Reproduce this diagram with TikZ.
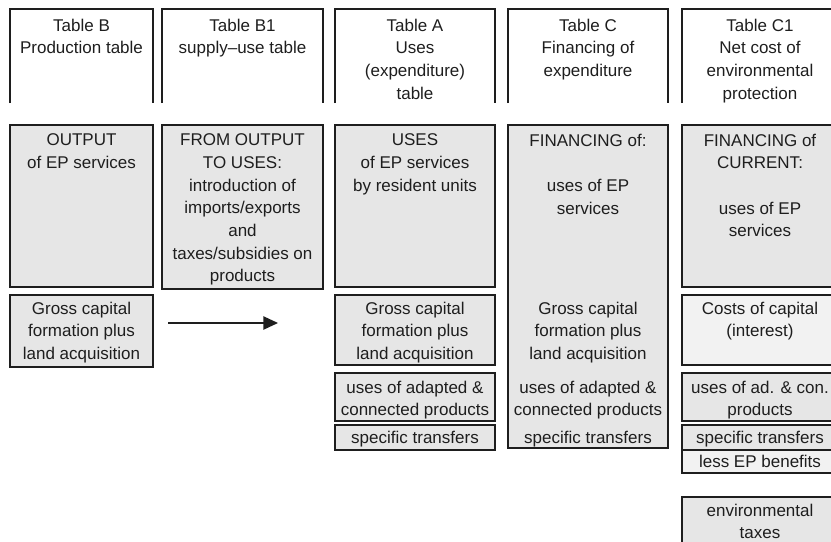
\documentclass[tikz,border=0pt]{standalone}
\usepackage{fontspec}
\setmainfont{Liberation Sans}
\usetikzlibrary{arrows.meta,fit}
\definecolor{cellgray}{HTML}{E6E6E6}
\definecolor{cellpale}{HTML}{F2F2F2}
\definecolor{ink}{HTML}{1E1E1E}
\begin{document}
\begin{tikzpicture}[x=0.75pt,y=-0.75pt,
 cell/.style={draw=ink, line width=1.2pt, fill=cellgray, inner sep=0pt},
 pale/.style={fill=cellpale},
 txt/.style={anchor=north, align=center, inner sep=0pt, text=ink, font=\fontsize{12.75}{17}\selectfont},
 head/.style={draw=ink, line width=1.2pt}]
\useasboundingbox (0,0) rectangle (831,542);
% header boxes (open at the bottom)
\draw[head] (10,103) |- (153,9) -- (153,103);
\draw[head] (162,103) |- (323,9) -- (323,103);
\draw[head] (335,103) |- (495,9) -- (495,103);
\draw[head] (508,103) |- (668,9) -- (668,103);
\draw[head] (682,103) |- (840,9) -- (840,103);
\node[txt] (hB)  at (81.5,18.6) {Table B\\Production table};
\node[txt] (hB1) at (242.5,18.6) {Table B1\\supply--use table};
\node[txt] (hA)  at (415,18.6) {Table A\\Uses\\(expenditure)\\table};
\node[txt] (hC)  at (588,18.6) {Table C\\Financing of\\expenditure};
\node[txt] (hC1) at (760,18.6) {Table C1\\Net cost of\\environmental\\protection};
% main boxes
\node[cell, fit={(10,125)(153,287)}] (bB) {};
\node[cell, fit={(162,125)(323,289)}] (bB1) {};
\node[cell, fit={(335,125)(495,287)}] (bA) {};
\node[cell, fit={(508,125)(668,448)}] (bC) {};
\node[cell, fit={(682,125)(840,287)}] (bC1) {};
\node[txt] (tB)  at (81.5,133.6) {OUTPUT\\of EP services};
\node[txt] (tB1) at (242.5,133.6) {FROM OUTPUT\\TO USES:\\introduction of\\imports/exports\\and\\taxes/subsidies on\\products};
\node[txt] (tA)  at (415,133.6) {USES\\of EP services\\by resident units};
\node[txt] (tC)  at (588,133.6) {FINANCING of:\\[17pt]uses of EP\\services};
\node[txt] (tC1) at (760,133.6) {FINANCING of\\CURRENT:\\[17pt]uses of EP\\services};
% second row
\node[cell, fit={(10,295)(153,367)}] (gB) {};
\node[cell, fit={(335,295)(495,365)}] (gA) {};
\node[cell, fit={(335,373)(495,421)}] (uA) {};
\node[cell, fit={(335,425)(495,450)}] (sA) {};
\node[cell, pale, fit={(682,295)(840,365)}] (kC1) {};
\node[cell, fit={(682,373)(840,421)}] (uC1) {};
\node[cell, fit={(682,425)(840,450)}] (sC1) {};
\node[cell, pale, fit={(682,450)(840,473)}] (lC1) {};
\node[cell, fit={(682,497)(840,560)}] (eC1) {};
\node[txt] (tgB) at (81.5,301.6) {Gross capital\\formation plus\\land acquisition};
\node[txt] (tgA) at (415,301.6) {Gross capital\\formation plus\\land acquisition};
\node[txt] (tgC) at (588,301.6) {Gross capital\\formation plus\\land acquisition};
\node[txt] (tuA) at (415,380.6) {uses of adapted \&\\connected products};
\node[txt] (tuC) at (588,380.6) {uses of adapted \&\\connected products};
\node[txt] (tsA) at (415,430.6) {specific transfers};
\node[txt] (tsC) at (588,430.6) {specific transfers};
\node[txt] (tkC1) at (760,301.6) {Costs of capital\\(interest)};
\node[txt] (tuC1) at (760,380.6) {uses of ad. \& con.\\products};
\node[txt] (tsC1) at (760,430.6) {specific transfers};
\node[txt] (tlC1) at (760,455.3) {less EP benefits};
\node[txt] (teC1) at (760,503.6) {environmental\\taxes};
% arrow
\coordinate (aS) at (168,323);
\coordinate (aE) at (278,323);
\draw[ink, line width=1pt, -{Triangle[length=11pt,width=10pt]}] (aS) -- (aE);
\end{tikzpicture}
\end{document}
